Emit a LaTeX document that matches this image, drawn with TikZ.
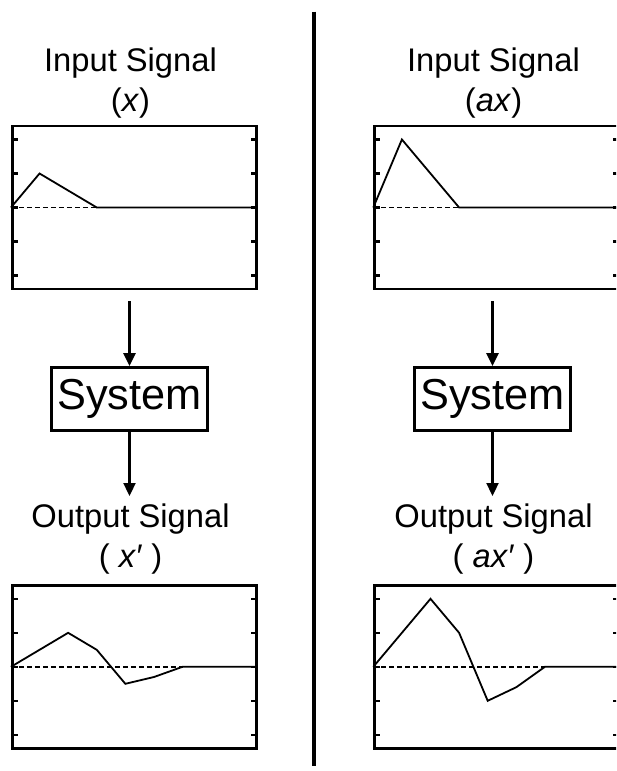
\documentclass[tikz,border=0pt]{standalone}
\usepackage{fontspec}
\setmainfont{Liberation Sans}
\usetikzlibrary{arrows.meta,positioning,calc}

\begin{document}
\begin{tikzpicture}[
    x=1pt, y=-1pt,
    plotframe/.style={draw, line width=2.8pt, minimum width=244pt, minimum height=163pt, inner sep=0pt},
    sigtitle/.style={align=center, inner sep=0pt, anchor=north, font=\fontsize{32.7}{40}\selectfont},
    sysbox/.style={draw, line width=2.8pt, minimum width=156pt, minimum height=63pt, inner sep=0pt, font=\fontsize{43.3}{50}\selectfont},
    flow/.style={line width=2.3pt, -{Triangle[length=13pt, width=12pt]}},
    trace/.style={line width=1.8pt},
    zeroline/.style={line width=1.5pt, dash pattern=on 5pt off 3pt},
    tickmark/.style={line width=2.3pt},
    divider/.style={line width=4.3pt}
]
    \useasboundingbox (0,0) rectangle (616,771);
    \clip (0,0) rectangle (616,771);

    % titles and systems
    \node[sigtitle] (intitleL) at (130.5,48) {Input Signal\\(\textit{x})};
    \node[sigtitle] (intitleR) at (493.5,48) {Input Signal\\(\textit{ax})};
    \node[sysbox] (sysL) at (129.5,399) {System};
    \node[sysbox] (sysR) at (492.5,399) {System};
    \node[sigtitle] (outtitleL) at (130.5,504) {Output Signal\\( \textit{x′} )};
    \node[sigtitle] (outtitleR) at (493.5,504) {Output Signal\\( \textit{ax′} )};

    % plot frames
    \node[plotframe] (inplotL) at (134.35,207.5) {};
    \node[plotframe] (inplotR) at (496.7,207.5) {};
    \node[plotframe] (outplotL) at (134.35,666.8) {};
    \node[plotframe] (outplotR) at (496.7,666.8) {};

    \foreach \p in {inplotL,inplotR,outplotL,outplotR} {
        \foreach \k in {-2,...,2} {
            \draw[tickmark] ([yshift=\k*34pt]\p.west) -- ++(7,0);
            \draw[tickmark] ([yshift=\k*34pt]\p.east) -- ++(-7,0);
        }
    }

    % signals
    \begin{scope}[shift={(inplotL.west)}, x=28.6pt, y=34pt]
        \draw[zeroline] (0,0) -- (3,0);
        \draw[trace] (0,0) -- (1,1) -- (3,0) -- (inplotL.east);
    \end{scope}
    \begin{scope}[shift={(inplotR.west)}, x=28.6pt, y=34pt]
        \draw[zeroline] (0,0) -- (3,0);
        \draw[trace] (0,0) -- (1,2) -- (3,0) -- (inplotR.east);
    \end{scope}
    \begin{scope}[shift={(outplotL.west)}, x=28.6pt, y=34pt]
        \draw[zeroline] (0,0) -- (6,0);
        \draw[trace] (0,0) -- (1,0.5) -- (2,1) -- (3,0.5) -- (4,-0.5) -- (5,-0.3) -- (6,0) -- (outplotL.east);
    \end{scope}
    \begin{scope}[shift={(outplotR.west)}, x=28.6pt, y=34pt]
        \draw[zeroline] (0,0) -- (6,0);
        \draw[trace] (0,0) -- (1,1) -- (2,2) -- (3,1) -- (4,-1) -- (5,-0.6) -- (6,0) -- (outplotR.east);
    \end{scope}

    % arrows
    \draw[flow, shorten <=11pt] (sysL |- inplotL.south) -- (sysL.north);
    \draw[flow, shorten >=8pt] (sysL.south) -- (sysL |- outtitleL.north);
    \draw[flow, shorten <=11pt] (sysR |- inplotR.south) -- (sysR.north);
    \draw[flow, shorten >=8pt] (sysR.south) -- (sysR |- outtitleR.north);

    % divider
    \coordinate (divtop) at (314.3,11.7);
    \coordinate (divbot) at (314.3,766);
    \draw[divider] (divtop) -- (divbot);
\end{tikzpicture}
\end{document}
